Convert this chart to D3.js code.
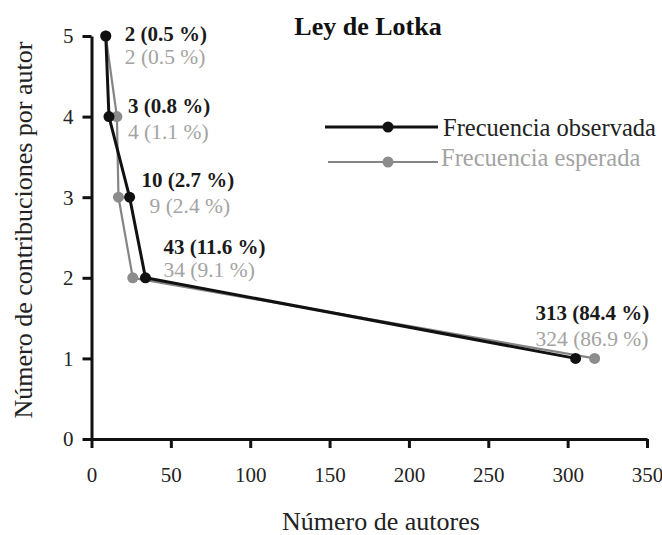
<!DOCTYPE html>
<html>
<head>
<meta charset="utf-8">
<script src="https://cdn.jsdelivr.net/npm/d3@7"></script>
<style>
  html, body { margin: 0; padding: 0; background: #fff; }
  svg { display: block; }
  text { font-family: "Liberation Serif", "Times New Roman", serif; }
</style>
</head>
<body>
<svg id="chart" width="662" height="535"></svg>
<script>
// ---- data ----
const contributions = [5, 4, 3, 2, 1];               // y: number of contributions per author
const observedX = [9, 11, 24, 34, 305];              // x as plotted (observed)
const expectedX = [9, 16, 17, 26, 317];              // x as plotted (expected)
const observedLabels = ["2 (0.5 %)", "3 (0.8 %)", "10 (2.7 %)", "43 (11.6 %)", "313 (84.4 %)"];
const expectedLabels = ["2 (0.5 %)", "4 (1.1 %)", "9 (2.4 %)", "34 (9.1 %)", "324 (86.9 %)"];
const xTicks = [0, 50, 100, 150, 200, 250, 300, 350];
const yTicks = [0, 1, 2, 3, 4, 5];
const seriesNames = ["Frecuencia observada", "Frecuencia esperada"];

// ---- layout (label offsets relative to observed point, px) ----
const labelOffsets = [
  {dx: 19, dyB: 5,   gx: 19, dyG: 28},
  {dx: 19, dyB: -4,  gx: 19, dyG: 22},
  {dx: 12, dyB: -10, gx: 20, dyG: 16},
  {dx: 18, dyB: -24, gx: 18, dyG: -1},
  {dx: -40, dyB: -38, gx: -40, dyG: -12}
];

const svg = d3.select("#chart");
const x = d3.scaleLinear().domain([0, 350]).range([91.5, 647]);
const y = d3.scaleLinear().domain([0, 5]).range([439, 36]);

const BLACK = "#111", GRAY_LINE = "#858585", GRAY_DOT = "#8c8c8c", GRAY_TEXT = "#a3a3a3";
const FONT = "'Liberation Serif', 'Times New Roman', serif";

// axes
const xAxis = svg.append("g").attr("transform", `translate(0,${y(0)})`)
  .call(d3.axisBottom(x).tickValues(xTicks).tickSize(9).tickSizeOuter(0).tickFormat(d3.format("d")));
xAxis.select(".domain").attr("stroke", BLACK).attr("stroke-width", 3);
xAxis.selectAll(".tick line").attr("stroke", BLACK).attr("stroke-width", 3);
xAxis.selectAll(".tick text").attr("y", 43).attr("dy", 0)
  .attr("fill", "#222").style("font-size", "21px").style("font-family", FONT);

const yAxis = svg.append("g").attr("transform", `translate(${x(0)},0)`)
  .call(d3.axisLeft(y).tickValues(yTicks).tickSize(9).tickSizeOuter(0).tickFormat(d3.format("d")));
yAxis.select(".domain").attr("stroke", BLACK).attr("stroke-width", 3);
yAxis.selectAll(".tick line").attr("stroke", BLACK).attr("stroke-width", 3);
yAxis.selectAll(".tick text").attr("x", -18).attr("dy", "0.33em")
  .attr("fill", "#222").style("font-size", "21px").style("font-family", FONT);

// lines
const line = d3.line().x(d => x(d[0])).y(d => y(d[1]));
const obs = observedX.map((v, i) => [v, contributions[i]]);
const exp = expectedX.map((v, i) => [v, contributions[i]]);

svg.append("path").datum(exp).attr("d", line).attr("fill", "none")
  .attr("stroke", GRAY_LINE).attr("stroke-width", 2.2).attr("stroke-linejoin", "round");
svg.append("g").selectAll("circle").data(exp).join("circle")
  .attr("cx", d => x(d[0])).attr("cy", d => y(d[1])).attr("r", 5.5).attr("fill", GRAY_DOT);

svg.append("path").datum(obs).attr("d", line).attr("fill", "none")
  .attr("stroke", BLACK).attr("stroke-width", 3).attr("stroke-linejoin", "round");
svg.append("g").selectAll("circle").data(obs).join("circle")
  .attr("cx", d => x(d[0])).attr("cy", d => y(d[1])).attr("r", 5.5).attr("fill", BLACK);

// data labels
obs.forEach((d, i) => {
  const px = x(d[0]), py = y(d[1]), o = labelOffsets[i];
  svg.append("text").attr("x", px + o.dx).attr("y", py + o.dyB)
    .attr("fill", "#1a1a1a").style("font-size", "21px").style("font-weight", "bold")
    .text(observedLabels[i]);
  svg.append("text").attr("x", px + o.gx).attr("y", py + o.dyG)
    .attr("fill", GRAY_TEXT).style("font-size", "21.5px")
    .text(expectedLabels[i]);
});

// title
svg.append("text").attr("x", 368).attr("y", 35).attr("text-anchor", "middle")
  .attr("fill", "#111").style("font-size", "26px").style("font-weight", "bold")
  .text("Ley de Lotka");

// axis titles
svg.append("text").attr("x", 381).attr("y", 530).attr("text-anchor", "middle")
  .attr("fill", "#222").style("font-size", "26px").text("Número de autores");
svg.append("text").attr("transform", "translate(32,230) rotate(-90)").attr("text-anchor", "middle")
  .attr("fill", "#222").style("font-size", "26px").text("Número de contribuciones por autor");

// legend
const legend = svg.append("g");
const legendRows = [
  {name: seriesNames[0], y: 127, x1: 325, stroke: BLACK, sw: 3, dot: BLACK, text: "#222", tx: 443, ty: 136},
  {name: seriesNames[1], y: 162, x1: 328, stroke: GRAY_LINE, sw: 2.2, dot: GRAY_DOT, text: GRAY_TEXT, tx: 441, ty: 166}
];
legendRows.forEach(r => {
  legend.append("line").attr("x1", r.x1).attr("x2", 438).attr("y1", r.y).attr("y2", r.y)
    .attr("stroke", r.stroke).attr("stroke-width", r.sw);
  legend.append("circle").attr("cx", 388).attr("cy", r.y).attr("r", 5.5).attr("fill", r.dot);
  legend.append("text").attr("x", r.tx).attr("y", r.ty).attr("fill", r.text)
    .style("font-size", "24.5px").text(r.name);
});
</script>
</body>
</html>
